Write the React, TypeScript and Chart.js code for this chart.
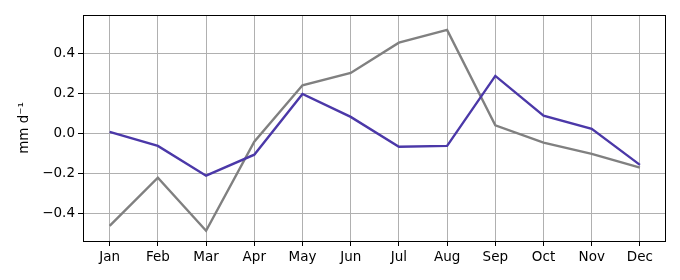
import React, { useEffect, useRef } from "react";
import { Chart, registerables } from "chart.js";

Chart.register(...registerables);

const months = ["Jan", "Feb", "Mar", "Apr", "May", "Jun", "Jul", "Aug", "Sep", "Oct", "Nov", "Dec"];
const purpleSeries = [0.007, -0.063, -0.212, -0.107, 0.197, 0.082, -0.067, -0.063, 0.287, 0.088, 0.022, -0.158];
const graySeries = [-0.463, -0.222, -0.487, -0.042, 0.24, 0.302, 0.453, 0.517, 0.04, -0.047, -0.103, -0.172];
const yTicks = [-0.4, -0.2, 0.0, 0.2, 0.4];
const yLabel = "mm d\u207B\u00B9";

const FONT = "'DejaVu Sans', sans-serif";

const framePlugin = {
  id: "frame",
  afterDraw(chart: any) {
    const { ctx, chartArea } = chart;
    ctx.save();
    ctx.strokeStyle = "#000";
    ctx.lineWidth = 1;
    ctx.strokeRect(
      Math.round(chartArea.left) + 0.5,
      Math.round(chartArea.top) + 0.5,
      Math.round(chartArea.right - chartArea.left),
      Math.round(chartArea.bottom - chartArea.top)
    );
    ctx.restore();
  },
};

export default function App() {
  const ref = useRef<HTMLCanvasElement>(null);
  useEffect(() => {
    document.body.style.margin = "0";
    const canvas = ref.current!;
    const chart = new Chart(canvas, {
      type: "line",
      data: {
        datasets: [
          {
            data: purpleSeries.map((v, i) => ({ x: i, y: v })),
            borderColor: "#4b38a8",
            borderWidth: 2.4,
            pointRadius: 0,
            tension: 0,
            fill: false,
          },
          {
            data: graySeries.map((v, i) => ({ x: i, y: v })),
            borderColor: "#808080",
            borderWidth: 2.4,
            pointRadius: 0,
            tension: 0,
            fill: false,
          },
        ],
      },
      options: {
        animation: false,
        responsive: false,
        devicePixelRatio: 1,
        layout: { padding: { left: 0, right: 15, top: 15, bottom: 0 } },
        plugins: { legend: { display: false }, tooltip: { enabled: false } },
        scales: {
          x: {
            type: "linear",
            min: -0.553,
            max: 11.52,
            afterBuildTicks: (scale: any) => {
              scale.ticks = months.map((_, i) => ({ value: i }));
            },
            afterFit: (scale: any) => {
              scale.height = 39;
            },
            ticks: {
              autoSkip: false,
              maxRotation: 0,
              padding: 3,
              color: "#000",
              font: { family: FONT, size: 13.5 },
              callback: (v: any) => months[Math.round(Number(v))] ?? "",
            },
            grid: { color: "#b0b0b0", lineWidth: 1, tickLength: 5, tickColor: "#000", drawTicks: true },
            border: { display: false },
          },
          y: {
            type: "linear",
            min: -0.5385,
            max: 0.5915,
            afterBuildTicks: (scale: any) => {
              scale.ticks = yTicks.map((v) => ({ value: v }));
            },
            afterFit: (scale: any) => {
              scale.width = 83;
            },
            ticks: {
              padding: 3,
              color: "#000",
              font: { family: FONT, size: 13.5 },
              callback: (v: any) => {
                const n = Number(v);
                const s = Math.abs(n).toFixed(1);
                return n < -1e-9 ? "\u2212" + s : s;
              },
            },
            grid: { color: "#b0b0b0", lineWidth: 1, tickLength: 5, tickColor: "#000", drawTicks: true },
            border: { display: false },
            title: {
              display: true,
              text: yLabel,
              color: "#000",
              font: { family: FONT, size: 13.5 },
              padding: { top: 16, bottom: 0 },
            },
          },
        },
      },
      plugins: [framePlugin],
    });
    return () => chart.destroy();
  }, []);
  return <canvas ref={ref} width={680} height={280} style={{ display: "block" }} />;
}
